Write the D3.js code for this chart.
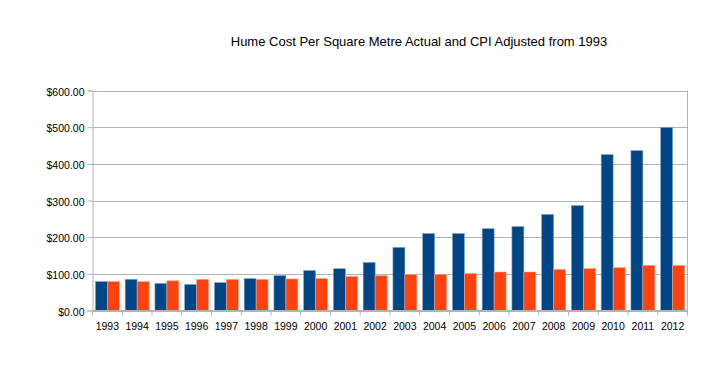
<!DOCTYPE html>
<html>
<head>
<meta charset="utf-8">
<script src="https://cdn.jsdelivr.net/npm/d3@7"></script>
<style>
  body { margin: 0; background: #fff; }
  svg { font-family: "Liberation Sans", Arial, sans-serif; }
</style>
</head>
<body>
<svg></svg>
<script>
var years = ["1993", "1994", "1995", "1996", "1997", "1998", "1999", "2000", "2001", "2002",
  "2003", "2004", "2005", "2006", "2007", "2008", "2009", "2010", "2011", "2012"];
var actual = [79, 85, 74, 71, 76, 87, 95, 109, 114, 131, 172, 210, 210, 223, 229, 262, 286, 425, 436, 499];
var cpiAdjusted = [79, 79, 81, 85, 85, 85, 86, 87, 93, 95, 98, 98, 101, 105, 105, 112, 114, 117, 123, 123];
var yTicks = [0, 100, 200, 300, 400, 500, 600];

var svgWidth = 719;
var svgHeight = 368;
var plotLeft = 92.5, plotRight = 687.5, plotTop = 90.5, plotBottom = 310.5;

var svg = d3.select("svg")
  .attr("width", svgWidth)
  .attr("height", svgHeight);

svg.append("text")
  .attr("x", 419)
  .attr("y", 46)
  .attr("text-anchor", "middle")
  .attr("font-size", 13)
  .attr("fill", "#000")
  .text("Hume Cost Per Square Metre Actual and CPI Adjusted from 1993");

var x = d3.scaleBand()
  .domain(years)
  .range([plotLeft, plotRight])
  .paddingInner(0)
  .paddingOuter(0);

var inner = d3.scaleBand()
  .domain(["a", "c"])
  .range([0, x.bandwidth()])
  .paddingInner(0)
  .paddingOuter(0.245);

var y = d3.scaleLinear()
  .domain([0, 600])
  .range([plotBottom, plotTop]);

// grid lines
svg.append("g")
  .selectAll("line")
  .data(yTicks)
  .enter()
  .append("line")
  .attr("x1", plotLeft)
  .attr("x2", plotRight)
  .attr("y1", function(d) { return Math.round(y(d)) + 0.5; })
  .attr("y2", function(d) { return Math.round(y(d)) + 0.5; })
  .attr("stroke", "#b3b3b3")
  .attr("stroke-width", 1);

// right border
svg.append("line")
  .attr("x1", plotRight).attr("x2", plotRight)
  .attr("y1", plotTop).attr("y2", plotBottom)
  .attr("stroke", "#b3b3b3");

var bars = [
  { key: "a", values: actual, color: "#004586", edge: "#7fa2c3" },
  { key: "c", values: cpiAdjusted, color: "#ff420e", edge: "#ffa086" }
];

bars.forEach(function(s) {
  svg.append("g")
    .selectAll("rect")
    .data(s.values)
    .enter()
    .append("rect")
    .attr("x", function(d, i) { return x(years[i]) + inner(s.key); })
    .attr("y", function(d) { return y(d); })
    .attr("width", inner.bandwidth())
    .attr("height", function(d) { return y(0) - y(d); })
    .attr("fill", s.color)
    .attr("stroke", s.edge)
    .attr("stroke-width", 0.6);
});

// y axis
var yAxis = d3.axisLeft(y)
  .tickValues(yTicks)
  .tickSize(5)
  .tickPadding(3)
  .tickFormat(function(d) { return "$" + d3.format(".2f")(d); });

var gy = svg.append("g")
  .attr("transform", "translate(" + plotLeft + ",0)")
  .call(yAxis);
gy.select(".domain").attr("stroke", "#b3b3b3");
gy.selectAll(".tick line").attr("stroke", "#b3b3b3");
gy.selectAll(".tick text")
  .attr("font-size", 10.5)
  .attr("fill", "#000")
  .attr("dy", "0.45em")
  .attr("font-family", "Liberation Sans, Arial, sans-serif");

// x axis: category labels and boundary ticks
var gx = svg.append("g");
gx.append("line")
  .attr("x1", plotLeft).attr("x2", plotRight)
  .attr("y1", plotBottom).attr("y2", plotBottom)
  .attr("stroke", "#b3b3b3");
gx.selectAll(".bt")
  .data(years.concat(["end"]))
  .enter()
  .append("line")
  .attr("x1", function(d, i) { return plotLeft + i * x.bandwidth(); })
  .attr("x2", function(d, i) { return plotLeft + i * x.bandwidth(); })
  .attr("y1", plotBottom)
  .attr("y2", plotBottom + 5)
  .attr("stroke", "#b3b3b3");
gx.selectAll("text")
  .data(years)
  .enter()
  .append("text")
  .attr("x", function(d) { return x(d) + x.bandwidth() / 2; })
  .attr("y", plotBottom + 19.5)
  .attr("text-anchor", "middle")
  .attr("font-size", 10.5)
  .attr("fill", "#000")
  .text(function(d) { return d; });
</script>
</body>
</html>
